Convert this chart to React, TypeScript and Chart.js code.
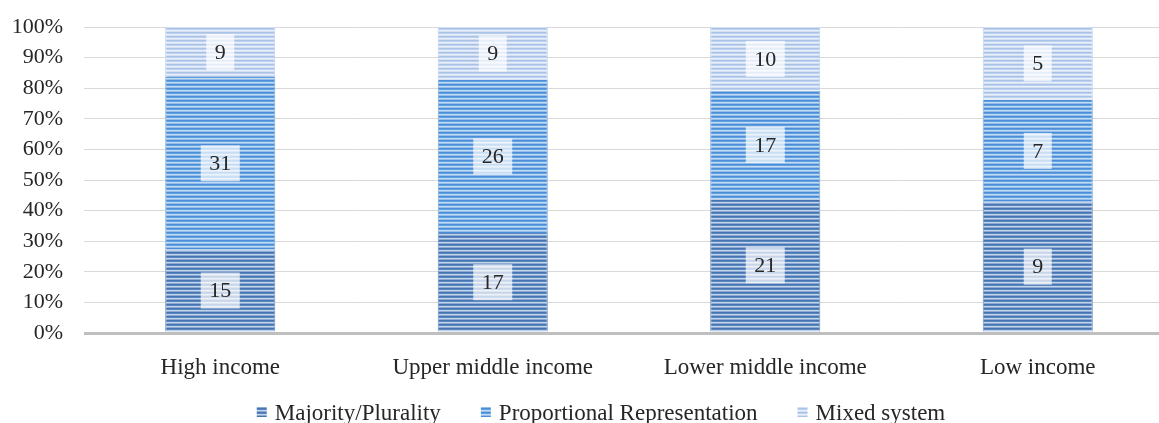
import React, { useEffect, useRef } from "react";
import { Chart, registerables } from "chart.js";

Chart.register(...registerables);

const categories = ["High income", "Upper middle income", "Lower middle income", "Low income"];
const seriesNames = ["Majority/Plurality", "Proportional Representation", "Mixed system"];
const majority = [15, 17, 21, 9];
const proportional = [31, 26, 17, 7];
const mixed = [9, 9, 10, 5];
const yTicks = [0, 10, 20, 30, 40, 50, 60, 70, 80, 90, 100];

const FONT = "'Liberation Serif', 'Times New Roman', serif";
const TEXT = "#262626";

const stripeSets = [
  ["#4574b0", "#5a87bf", "#c3d4ea", "#8dabd3"],
  ["#4b8dd6", "#60a0e0", "#c4dbf4", "#94bdea"],
  ["#a9c3e8", "#bcd0ee", "#ebf1fa", "#d3e0f4"],
];
const edgeColors = ["#6a8fbf", "#78a8dd", "#bfd2ed"];

function makePattern(colors: string[]): CanvasPattern | string {
  const c = document.createElement("canvas");
  c.width = 4;
  c.height = 4;
  const ctx = c.getContext("2d");
  if (!ctx) return colors[0];
  colors.forEach((col, i) => {
    ctx.fillStyle = col;
    ctx.fillRect(0, i, 4, 1);
  });
  const p = ctx.createPattern(c, "repeat");
  return p || colors[0];
}

export default function App() {
  const ref = useRef<HTMLCanvasElement | null>(null);

  useEffect(() => {
    if (!ref.current) return;
    const series = [majority, proportional, mixed];
    const totals = categories.map((_, i) => series.reduce((s, arr) => s + arr[i], 0));
    const patterns = stripeSets.map(makePattern);

    const labelPlugin = {
      id: "segLabels",
      afterDatasetsDraw(chart: any) {
        const ctx = chart.ctx;
        ctx.save();
        ctx.font = `22px ${FONT}`;
        ctx.textAlign = "center";
        ctx.textBaseline = "middle";
        chart.data.datasets.forEach((ds: any, di: number) => {
          const meta = chart.getDatasetMeta(di);
          meta.data.forEach((el: any, i: number) => {
            const txt = String(series[di][i]);
            const w = ctx.measureText(txt).width + 17;
            const h = 36;
            const cx = el.x;
            const cy = (el.y + el.base) / 2;
            ctx.fillStyle = "rgba(255,255,255,0.7)";
            ctx.fillRect(cx - w / 2, cy - h / 2, w, h);
            ctx.fillStyle = TEXT;
            ctx.fillText(txt, cx, cy + 1);
          });
        });
        ctx.restore();
      },
    };

    const legendPlugin = {
      id: "customLegend",
      afterDraw(chart: any) {
        const ctx = chart.ctx;
        ctx.save();
        ctx.font = `23px ${FONT}`;
        const box = 10;
        const gapBoxText = 8;
        const gapItems = 40;
        const widths = seriesNames.map((n) => box + gapBoxText + ctx.measureText(n).width);
        const total = widths.reduce((a, b) => a + b, 0) + gapItems * (widths.length - 1);
        let x = 601 - total / 2;
        const baseY = 420;
        seriesNames.forEach((n, i) => {
          ctx.fillStyle = patterns[i];
          ctx.fillRect(x, baseY - 13, box, box);
          ctx.fillStyle = TEXT;
          ctx.textBaseline = "alphabetic";
          ctx.textAlign = "left";
          ctx.fillText(n, x + box + gapBoxText, baseY);
          x += widths[i] + gapItems;
        });
        ctx.restore();
      },
    };

    const chart = new Chart(ref.current, {
      type: "bar",
      data: {
        labels: categories,
        datasets: series.map((arr, di) => ({
          label: seriesNames[di],
          data: arr.map((v, i) => (v / totals[i]) * 100),
          backgroundColor: patterns[di] as any,
          borderColor: edgeColors[di],
          borderWidth: { left: 1, right: 1, top: 0, bottom: 0 } as any,
          borderSkipped: false as any,
          categoryPercentage: 1,
          barPercentage: 0.404,
        })),
      },
      options: {
        responsive: false,
        animation: false,
        devicePixelRatio: 1,
        layout: { padding: { top: 27, right: 6, bottom: 0, left: 0 } },
        plugins: {
          legend: { display: false },
          tooltip: { enabled: false },
          title: { display: false },
        },
        scales: {
          x: {
            stacked: true,
            grid: { display: false },
            border: { display: false },
            ticks: {
              color: TEXT,
              font: { family: FONT, size: 23 },
              padding: 13,
              maxRotation: 0,
              autoSkip: false,
            },
            afterFit(scale: any) {
              scale.height = 90;
            },
          },
          y: {
            stacked: true,
            min: 0,
            max: 100,
            afterBuildTicks(scale: any) {
              scale.ticks = yTicks.map((v) => ({ value: v }));
            },
            afterFit(scale: any) {
              scale.width = 84;
              scale.paddingTop = 0;
              scale.paddingBottom = 0;
            },
            grid: {
              drawTicks: false,
              color: (c: any) => (c.tick && c.tick.value === 0 ? "#bfbfbf" : "#d9d9d9"),
              lineWidth: (c: any) => (c.tick && c.tick.value === 0 ? 3 : 1),
            },
            border: { display: false },
            ticks: {
              color: TEXT,
              font: { family: FONT, size: 22 },
              padding: 21,
              callback: (v: any) => `${v}%`,
            },
          },
        },
      },
      plugins: [labelPlugin, legendPlugin],
    } as any);

    return () => chart.destroy();
  }, []);

  return (
    <div
      style={{
        position: "absolute",
        left: 0,
        top: 0,
        width: 1159,
        height: 423,
        overflow: "hidden",
        background: "#ffffff",
      }}
    >
      <canvas ref={ref} width={1180} height={423} style={{ width: 1180, height: 423, display: "block" }} />
    </div>
  );
}
